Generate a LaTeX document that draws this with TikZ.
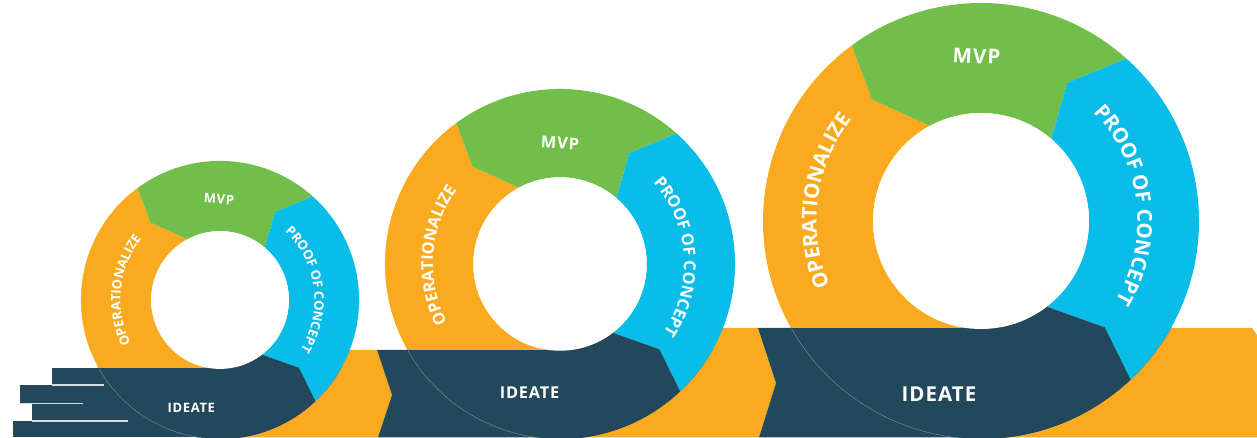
\documentclass[tikz,border=0pt]{standalone}
\usepackage{fontspec}
\setmainfont{Open Sans}
\usetikzlibrary{decorations.text}
\definecolor{orng}{HTML}{F9AA1F}
\definecolor{grn}{HTML}{72BE4A}
\definecolor{cyn}{HTML}{0ABDE9}
\definecolor{drk}{HTML}{23485C}
\definecolor{faintc}{HTML}{7C95A6}
\definecolor{gapc}{HTML}{D3DAE0}
\newcommand\ringsegs[4]{% cx cy s bandtop
 \begin{scope}
  \clip (0,#4) rectangle (1257,438);
  \fill[orng, shift={(#1,#2)}, scale=#3] (126.4:218) arc[start angle=126.4, end angle=270, radius=218] -- (270:108) arc[start angle=270, end angle=118.2, radius=108] -- (131.9:163) -- cycle;
 \end{scope}
 \begin{scope}[shift={(#1,#2)}, scale=#3]
  \fill[grn] (48.2:218) arc[start angle=48.2, end angle=126.4, radius=218] -- (131.9:163) -- (118.2:108) arc[start angle=118.2, end angle=49.5, radius=108] -- (58:163) -- cycle;
  \fill[cyn] (-46.7:218) arc[start angle=-46.7, end angle=48.2, radius=218] -- (58:163) -- (49.5:108) arc[start angle=49.5, end angle=-52.5, radius=108] -- (-40.7:163) -- cycle;
  \fill[drk] (-90:218) arc[start angle=-90, end angle=-46.7, radius=218] -- (-40.7:163) -- (-52.5:108) arc[start angle=-52.5, end angle=-90, radius=108] -- cycle;
  \fill[white] (0,0) circle[radius=108];
 \end{scope}}
\newcommand\bandcirc[5]{% cx cy s left top
 \begin{scope}
  \clip (#4,0.5) rectangle (1257,#5);
  \fill[drk] (#1,#2) circle[radius=218*#3];
 \end{scope}
 \draw[faintc, line width=0.4pt, shift={(#1,#2)}, scale=#3] (209.7:218) arc[start angle=209.7, end angle=270, radius=218];}
\tikzset{lbl/.style={text=white, inner sep=0pt}}
\begin{document}
\begin{tikzpicture}[x=1pt, y=1pt]
\useasboundingbox (0,0) rectangle (1257,438);
\clip (0,0) rectangle (1257,438);
% orange bands
\fill[orng] (220,0.5) -- (220,88) -- (377,88) -- (392,43) -- (378,0.5) -- cycle;
\fill[orng] (560,0.5) -- (560,110) -- (758,110) -- (776,55) -- (759,0.5) -- cycle;
\fill[orng] (981,0.5) -- (981,110) -- (1252,110) -- (1257,103) -- (1257,0.5) -- cycle;
% circle 1
\fill[drk] (52,53) rectangle (220,70);
\fill[drk] (20,34.7) rectangle (220,53);
\fill[drk] (32,17) rectangle (220,34.7);
\fill[drk] (13,0.5) rectangle (220,17);
\bandcirc{220}{138}{0.638}{0}{70}
\draw[gapc, line width=1.2pt] (52,53) -- (104,53);
\draw[gapc, line width=1.2pt] (20,34.7) -- (83,34.7);
\draw[gapc, line width=1.2pt] (32,17) -- (128,17);
\ringsegs{220}{138}{0.638}{70}
% circle 2
\fill[drk] (377,88) -- (392,43) -- (378,0.5) -- (560,0.5) -- (560,88) -- cycle;
\bandcirc{560}{174}{0.803}{370}{88}
\ringsegs{560}{174}{0.803}{88}
% circle 3
\fill[drk] (758,110) -- (776,55) -- (759,0.5) -- (981,0.5) -- (981,110) -- cycle;
\bandcirc{981}{217}{1}{750}{110}
\ringsegs{981}{217}{1}{110}
% straight labels
\node[lbl, font=\fontsize{13}{15}\selectfont\bfseries\addfontfeature{LetterSpace=5}, rotate=-4] (mvp1) at (219,238.7) {MVP};
\node[lbl, font=\fontsize{16.3}{19}\selectfont\bfseries\addfontfeature{LetterSpace=5}, rotate=-4] (mvp2) at (560,295.3) {MVP};
\node[lbl, font=\fontsize{20.5}{24}\selectfont\bfseries\addfontfeature{LetterSpace=5}, rotate=-3] (mvp3) at (976.5,382) {MVP};
\node[lbl, font=\fontsize{13}{15}\selectfont\bfseries\addfontfeature{LetterSpace=5}] (ide1) at (191.3,29.7) {IDEATE};
\node[lbl, font=\fontsize{16.3}{19}\selectfont\bfseries\addfontfeature{LetterSpace=5}] (ide2) at (529.5,45.5) {IDEATE};
\node[lbl, font=\fontsize{20.5}{24}\selectfont\bfseries\addfontfeature{LetterSpace=5}] (ide3) at (939,44) {IDEATE};
% curved labels
\path[shift={(220,138)}, decorate, decoration={text along path, text align=center, text color=white, text={|\fontsize{13}{15}\selectfont\bfseries|OPERATIONALIZE}}] (249:99.5) arc[start angle=249, end angle=99, radius=99.5];
\path[shift={(220,138)}, decorate, decoration={text along path, text align=center, text color=white, text={|\fontsize{13}{15}\selectfont\bfseries|PROOF OF CONCEPT}}] (87.5:94.5) arc[start angle=87.5, end angle=-72.5, radius=94.5];
\path[shift={(560,174)}, decorate, decoration={text along path, text align=center, text color=white, text={|\fontsize{16.3}{19}\selectfont\bfseries|OPERATIONALIZE}}] (250.75:127) arc[start angle=250.75, end angle=100.75, radius=127];
\path[shift={(560,174)}, decorate, decoration={text along path, text align=center, text color=white, text={|\fontsize{16.3}{19}\selectfont\bfseries|PROOF OF CONCEPT}}] (83.85:124) arc[start angle=83.85, end angle=-76.15, radius=124];
\path[shift={(981,217)}, decorate, decoration={text along path, text align=center, text color=white, text={|\fontsize{20.5}{24}\selectfont\bfseries|OPERATIONALIZE}}] (250:164.5) arc[start angle=250, end angle=95, radius=164.5];
\path[shift={(981,217)}, decorate, decoration={text along path, text align=center, text color=white, text={|\fontsize{20.5}{24}\selectfont\bfseries|PROOF OF CONCEPT}}] (86.7:156.5) arc[start angle=86.7, end angle=-73.3, radius=156.5];
\end{tikzpicture}
\end{document}
